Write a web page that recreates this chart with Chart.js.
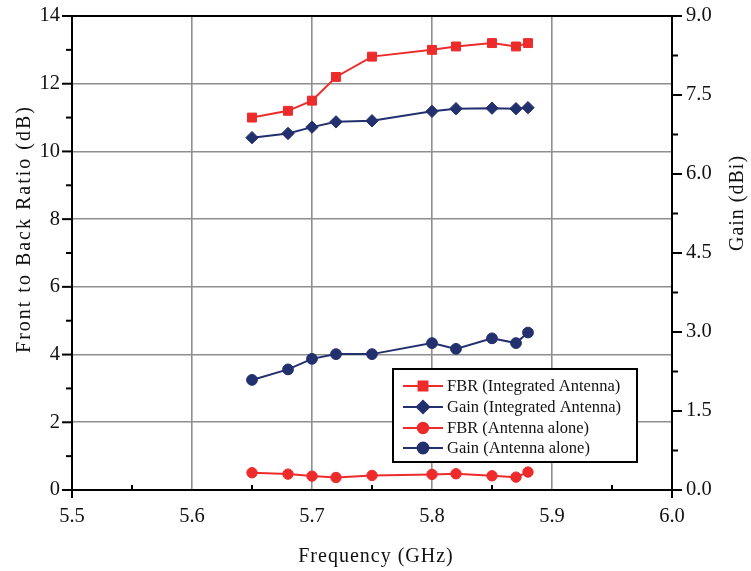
<!DOCTYPE html>
<html>
<head>
<meta charset="utf-8">
<script src="https://cdn.jsdelivr.net/npm/chart.js@4/dist/chart.umd.min.js"></script>
<style>
  html, body { margin: 0; padding: 0; background: #fff; }
  #wrap { width: 751px; height: 571px; position: relative; }
</style>
</head>
<body>
<div id="wrap"><canvas id="c"></canvas></div>
<script>
// Measured frequencies (GHz)
const frequencyGHz = [5.65, 5.68, 5.70, 5.72, 5.75, 5.80, 5.82, 5.85, 5.87, 5.88];

// Front-to-back ratio (dB), left axis
const fbrIntegrated = [11.0, 11.2, 11.5, 12.2, 12.8, 13.0, 13.1, 13.2, 13.1, 13.2];
const fbrAlone      = [0.51, 0.47, 0.41, 0.37, 0.43, 0.46, 0.48, 0.42, 0.38, 0.53];

// Gain (dBi), right axis
const gainIntegrated = [6.69, 6.77, 6.89, 6.99, 7.01, 7.19, 7.24, 7.25, 7.24, 7.26];
const gainAlone      = [2.09, 2.29, 2.49, 2.58, 2.58, 2.79, 2.68, 2.88, 2.79, 2.99];

// Axis ranges
const xRange = [5.5, 6.0];
const fbrRange = [0, 14];
const gainRange = [0, 9];

const RED = '#EE2B2B';
const NAVY = '#22306E';
const GRID = '#8E8E8E';
const INK = '#111111';
const FONT = "'Liberation Serif', 'Times New Roman', serif";

function points(ys) {
  return frequencyGHz.map((f, i) => ({ x: f, y: ys[i] }));
}

function series(label, ys, axis, color, style, radius) {
  return {
    label, data: points(ys), yAxisID: axis,
    borderColor: color, backgroundColor: color,
    pointBackgroundColor: color, pointBorderColor: color,
    pointStyle: style, pointRadius: radius, pointHoverRadius: radius,
    pointBorderWidth: 1, borderWidth: 2, tension: 0, fill: false
  };
}

const datasets = [
  series('FBR (Integrated Antenna)', fbrIntegrated, 'y', RED, 'rect', 6.3),
  series('Gain (Integrated Antenna)', gainIntegrated, 'y2', NAVY, 'rectRot', 6.2),
  series('FBR (Antenna alone)', fbrAlone, 'y', RED, 'circle', 5.2),
  series('Gain (Antenna alone)', gainAlone, 'y2', NAVY, 'circle', 5.4)
];

// Axes, tick marks, axis titles and the boxed legend
const framePlugin = {
  id: 'frame',
  afterDraw(chart) {
    const { ctx, chartArea: a, scales } = chart;
    const sx = scales.x, sy = scales.y, sy2 = scales.y2;
    ctx.save();
    ctx.strokeStyle = '#000';
    ctx.lineWidth = 2;
    ctx.lineCap = 'butt';

    const line = (x1, y1, x2, y2) => {
      ctx.beginPath(); ctx.moveTo(x1, y1); ctx.lineTo(x2, y2); ctx.stroke();
    };

    // frame lines
    line(a.left - 1, a.top, a.right + 1, a.top);
    line(a.left - 1, a.bottom, a.right + 1, a.bottom);
    line(a.left, a.top - 1, a.left, a.bottom + 8);
    line(a.right, a.top - 1, a.right, a.bottom + 8);

    // left ticks: major every 2, minor every 1 (outward)
    for (let v = fbrRange[0]; v <= fbrRange[1]; v += 1) {
      const y = sy.getPixelForValue(v);
      line(a.left - (v % 2 === 0 ? 10 : 6), y, a.left, y);
    }
    // right ticks: major every 1.5, minor every 0.75 (outward)
    for (let k = 0; k <= 12; k++) {
      const y = sy2.getPixelForValue(k * 0.75);
      line(a.right, y, a.right + (k % 2 === 0 ? 10 : 6), y);
    }
    // bottom minor ticks (inward)
    for (let k = 0; k < 5; k++) {
      const x = sx.getPixelForValue(5.55 + k * 0.1);
      line(x, a.bottom, x, a.bottom - 5);
    }

    // axis titles
    ctx.fillStyle = INK;
    ctx.font = '20px ' + FONT;
    if ('letterSpacing' in ctx) ctx.letterSpacing = '1px';
    ctx.textBaseline = 'alphabetic';
    ctx.textAlign = 'center';
    ctx.fillText('Frequency (GHz)', (a.left + a.right) / 2 + 4, 562);

    ctx.save();
    ctx.translate(30, 229);
    ctx.rotate(-Math.PI / 2);
    if ('letterSpacing' in ctx) ctx.letterSpacing = '2px';
    ctx.fillText('Front to Back Ratio (dB)', 0, 0);
    ctx.restore();

    ctx.save();
    ctx.translate(743, 203);
    ctx.rotate(-Math.PI / 2);
    ctx.fillText('Gain (dBi)', 0, 0);
    ctx.restore();
    if ('letterSpacing' in ctx) ctx.letterSpacing = '0px';

    // legend box
    const bx = 393, by = 369, bw = 244, bh = 93;
    ctx.fillStyle = '#fff';
    ctx.fillRect(bx, by, bw, bh);
    ctx.strokeStyle = '#000';
    ctx.lineWidth = 2;
    ctx.strokeRect(bx, by, bw, bh);
    const rows = [386, 407, 428, 448];
    ctx.font = '16.5px ' + FONT;
    ctx.textAlign = 'left';
    ctx.textBaseline = 'middle';
    chart.data.datasets.forEach((ds, i) => {
      const y = rows[i];
      ctx.strokeStyle = ds.borderColor;
      ctx.lineWidth = 2;
      line(403, y, 443, y);
      ctx.fillStyle = ds.backgroundColor;
      ctx.strokeStyle = ds.borderColor;
      Chart.helpers.drawPoint(ctx, {
        pointStyle: ds.pointStyle, rotation: 0,
        radius: ds.pointRadius, borderWidth: 1
      }, 423, y);
      ctx.fillStyle = INK;
      ctx.fillText(ds.label, 447, y + 1);
    });
    ctx.restore();
  }
};

function fixBox(size, key) {
  return (scale) => {
    scale[key] = size;
    scale.paddingTop = 0; scale.paddingBottom = 0;
    scale.paddingLeft = 0; scale.paddingRight = 0;
  };
}

const tickFont = { family: FONT, size: 20.5 };

new Chart(document.getElementById('c'), {
  type: 'line',
  data: { datasets },
  options: {
    responsive: true,
    maintainAspectRatio: false,
    animation: false,
    events: [],
    layout: { padding: { top: 16, left: 0, right: 0, bottom: 0 } },
    plugins: { legend: { display: false }, tooltip: { enabled: false } },
    scales: {
      x: {
        type: 'linear', min: xRange[0], max: xRange[1],
        afterFit: fixBox(81, 'height'),
        border: { display: false },
        grid: { color: GRID, lineWidth: 1.6, drawTicks: false },
        ticks: {
          stepSize: 0.1, padding: 14, color: INK, font: tickFont,
          maxRotation: 0, autoSkip: false,
          callback: (v) => Number(v).toFixed(1)
        }
      },
      y: {
        type: 'linear', position: 'left', min: fbrRange[0], max: fbrRange[1],
        afterFit: fixBox(72, 'width'),
        border: { display: false },
        grid: { color: GRID, lineWidth: 1.6, drawTicks: false },
        ticks: {
          stepSize: 2, padding: 12, color: INK, font: tickFont,
          callback: (v) => String(v)
        }
      },
      y2: {
        type: 'linear', position: 'right', min: gainRange[0], max: gainRange[1],
        afterFit: fixBox(79, 'width'),
        border: { display: false },
        grid: { drawOnChartArea: false, drawTicks: false },
        ticks: {
          stepSize: 1.5, padding: 14, color: INK, font: tickFont,
          callback: (v) => Number(v).toFixed(1)
        }
      }
    }
  },
  plugins: [framePlugin]
});
</script>
</body>
</html>
